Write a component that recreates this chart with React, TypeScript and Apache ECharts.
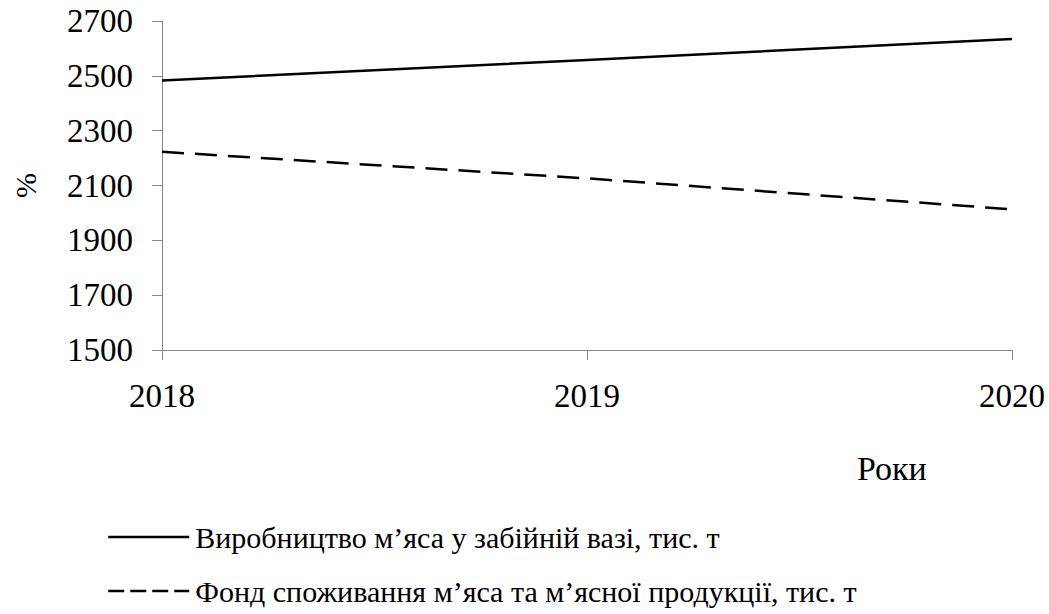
import React, { useEffect, useRef } from "react";
import * as echarts from "echarts";

const years = ["2018", "2019", "2020"];
const production = [2483, 2558, 2634];
const consumption = [2223, 2126, 2013];
const seriesNames = [
  "Виробництво м’яса у забійній вазі, тис. т",
  "Фонд споживання м’яса та м’ясної продукції, тис. т",
];
const yTitle = "%";
const xTitle = "Роки";

const FONT = "Liberation Serif";

export default function App() {
  const ref = useRef<HTMLDivElement>(null);
  useEffect(() => {
    if (!ref.current) return;
    const chart = echarts.init(ref.current, undefined, { renderer: "svg" });
    chart.setOption({
      animation: false,
      grid: { left: 162, right: 37, top: 21, bottom: 264, containLabel: false, outerBoundsMode: "none" },
      xAxis: {
        type: "category",
        data: years,
        boundaryGap: false,
        axisLine: { lineStyle: { color: "#888", width: 1 } },
        axisTick: { show: true, length: 10, alignWithLabel: true, lineStyle: { color: "#888" } },
        axisLabel: { color: "#000", fontFamily: FONT, fontSize: 33, margin: 29 },
        splitLine: { show: false },
      },
      yAxis: {
        type: "value",
        min: 1500,
        max: 2700,
        interval: 200,
        name: yTitle,
        nameLocation: "middle",
        nameRotate: 90,
        nameGap: 122,
        nameTextStyle: { color: "#000", fontFamily: FONT, fontSize: 30 },
        axisLine: { show: true, lineStyle: { color: "#888", width: 1 } },
        axisTick: { show: true, length: 10, lineStyle: { color: "#888" } },
        axisLabel: {
          color: "#000",
          fontFamily: FONT,
          fontSize: 33,
          margin: 29,
          formatter: (v: number) => String(v),
        },
        splitLine: { show: false },
      },
      legend: {
        orient: "vertical",
        left: 107,
        top: 522,
        padding: 0,
        itemWidth: 81,
        itemHeight: 28,
        itemGap: 24,
        itemStyle: { opacity: 0 },
        textStyle: { color: "#000", fontFamily: FONT, fontSize: 30, lineHeight: 28, padding: [0, 0, 0, 1] },
        data: [
          { name: seriesNames[0], lineStyle: { type: "solid", width: 2.5 } },
          { name: seriesNames[1], lineStyle: { type: [16, 6], width: 2.5 } },
        ],
      },
      graphic: [
        {
          type: "text",
          left: 857,
          top: 451,
          style: { text: xTitle, fill: "#000", fontFamily: FONT, fontSize: 34 },
        },
      ],
      series: [
        {
          name: seriesNames[0],
          type: "line",
          data: production,
          symbol: "none",
          lineStyle: { color: "#000", width: 2.5, type: "solid" },
          itemStyle: { color: "#000" },
        },
        {
          name: seriesNames[1],
          type: "line",
          data: consumption,
          symbol: "none",
          lineStyle: { color: "#000", width: 2.5, type: [22, 11] },
          itemStyle: { color: "#000" },
        },
      ],
    });
    return () => chart.dispose();
  }, []);
  return <div ref={ref} style={{ width: 1049, height: 614, position: "absolute", left: 0, top: 0 }} />;
}
